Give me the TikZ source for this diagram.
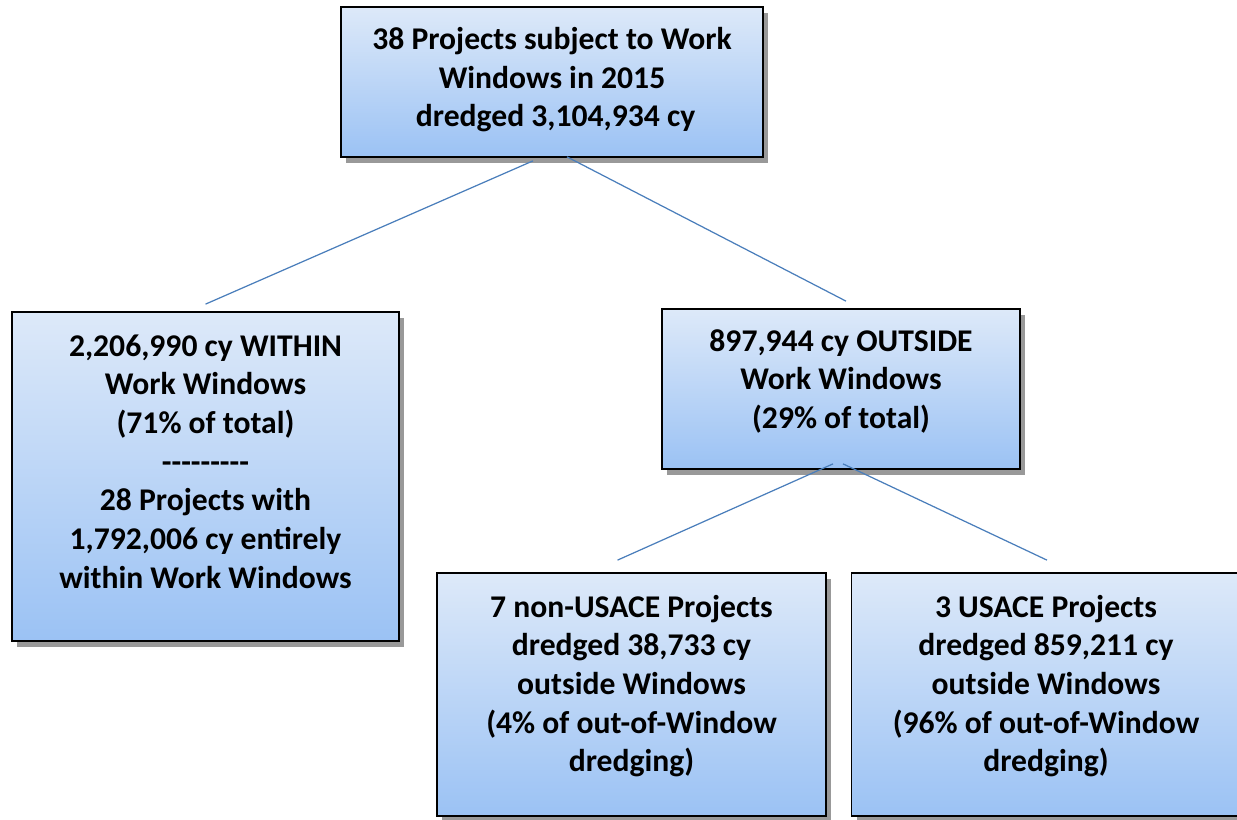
\documentclass[tikz,border=0pt]{standalone}
\usepackage{fontspec}
\setmainfont{Carlito}
\usetikzlibrary{calc,shadows}

\definecolor{boxtop}{HTML}{DDE9F9}
\definecolor{boxbot}{HTML}{9BC2F4}
\definecolor{linkblue}{HTML}{4A7EBB}

\tikzset{
  tbox/.style={draw=black, line width=1pt, top color=boxtop, bottom color=boxbot,
    align=center, inner sep=0pt, font=\fontsize{18}{22}\selectfont\bfseries,
    drop shadow={shadow xshift=0.1cm, shadow yshift=-0.12cm, fill=black!40, opacity=1}},
  link/.style={draw=linkblue, line width=0.7pt}
}
% row of plain hyphens, kerned so no dash ligature forms
\newcommand{\hyrow}{-\kern0pt-\kern0pt-\kern0pt-\kern0pt-\kern0pt-\kern0pt-\kern0pt-\kern0pt-}

\begin{document}
\begin{tikzpicture}[x=0.02cm, y=-0.02cm]
\useasboundingbox (0,0) rectangle (1237,820);

% boxes
\node[tbox, minimum width=8.44cm, minimum height=3.0cm, text depth=0.2cm] (top) at (552,82)
  {38 Projects subject to Work\\Windows in 2015\\\ dredged 3,104,934 cy};
\node[tbox, minimum width=7.74cm, minimum height=6.58cm, text depth=0.6cm] (within) at (205.5,476.5)
  {2,206,990 cy WITHIN\\Work Windows\\(71\% of total)\\\hyrow\\28 Projects with\\1,792,006 cy entirely\\within Work Windows};
\node[tbox, minimum width=7.16cm, minimum height=3.2cm, text depth=0.4cm] (outside) at (841,389)
  {897,944 cy OUTSIDE\\Work Windows\\(29\% of total)};
\node[tbox, minimum width=7.78cm, minimum height=4.86cm, text depth=0.45cm] (nonusace) at (631.5,694.5)
  {7 non-USACE Projects\\dredged 38,733 cy\\outside Windows\\(4\% of out-of-Window\\dredging)};
\node[tbox, minimum width=7.78cm, minimum height=4.86cm, text depth=0.45cm] (usace) at (1046,694.5)
  {3 USACE Projects\\dredged 859,211 cy\\outside Windows\\(96\% of out-of-Window\\dredging)};

% connectors
\draw[link] ($(top.south)+(-19,3)$) -- ($(within.north)+(0,-7)$);
\draw[link] ($(top.south)+(15,-1)$) -- ($(outside.north)+(5,-7)$);
\draw[link] ($(outside.south)+(-8,-6)$) -- ($(nonusace.north)+(-14,-12)$);
\draw[link] ($(outside.south)+(2,-6)$) -- ($(usace.north)+(1,-12)$);
\end{tikzpicture}
\end{document}
